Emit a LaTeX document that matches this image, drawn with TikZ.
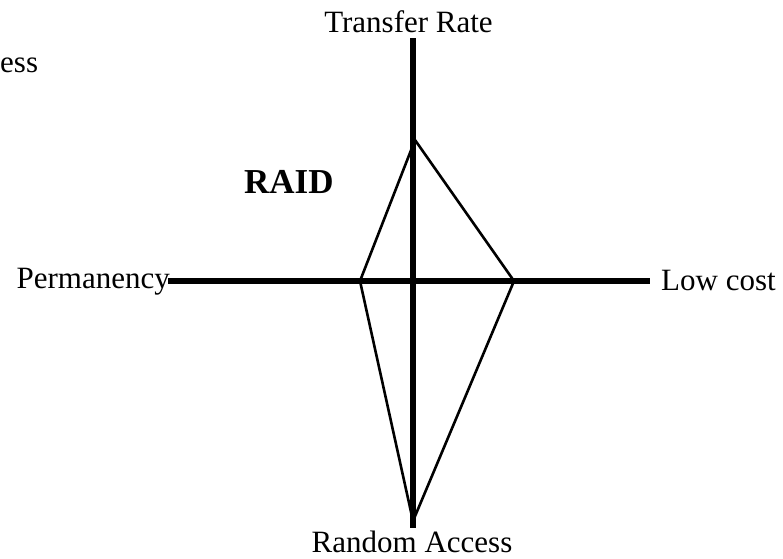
\documentclass[tikz,border=0pt]{standalone}
\usepackage{fontspec}
\setmainfont{Liberation Serif}
\tikzset{
  lbl/.style={inner sep=0pt, anchor=base, font=\fontsize{31}{34}\selectfont},
  axis/.style={line width=5.5pt},
  kite/.style={line width=2.6pt, line join=miter}
}
\begin{document}
\begin{tikzpicture}[x=1pt,y=-1pt]
\useasboundingbox (0,0) rectangle (783,558);
% axes
\coordinate (vt) at (413,38);
\coordinate (vb) at (413,528);
\coordinate (hl) at (168,281);
\coordinate (hr) at (650,281);
\draw[axis] (vt) -- (vb);
\draw[axis] (hl) -- (hr);
% kite
\coordinate (kt) at (415,140);
\coordinate (kr) at (514,281);
\coordinate (kb) at (413,521);
\coordinate (kl) at (360,281);
\draw[kite] (kt) -- (kr) -- (kb) -- (kl) -- cycle;
% labels
\node[lbl] (tr) at (408.5,32) {Transfer Rate};
\node[lbl] (ra) at (412,552) {Random Access};
\node[lbl, anchor=base east] (pe) at (170,288) {Permanency};
\node[lbl, anchor=base west] (lc) at (661,290) {Low cost};
\node[lbl, anchor=base west] (es) at (0,72) {ess};
\node[lbl, anchor=base west, font=\fontsize{35}{38}\selectfont\bfseries] (raid) at (244,193) {RAID};
\end{tikzpicture}
\end{document}
